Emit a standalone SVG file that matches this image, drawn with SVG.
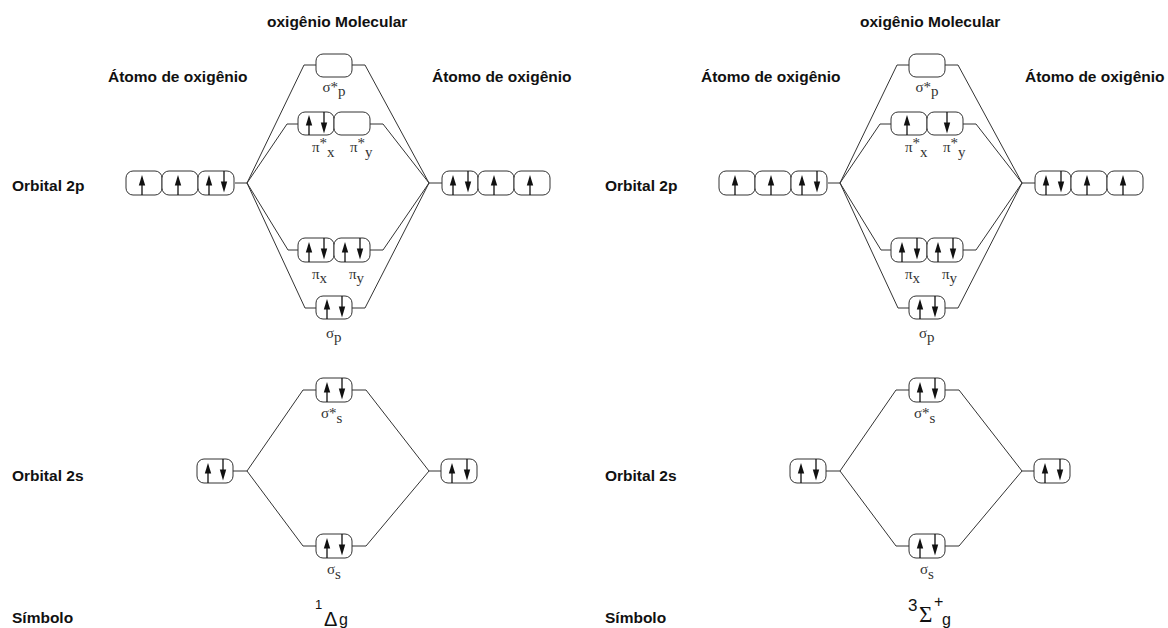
<svg xmlns="http://www.w3.org/2000/svg" xmlns:xlink="http://www.w3.org/1999/xlink" width="1168" height="628" viewBox="0 0 1168 628">
<style>
.bx{fill:#fff;stroke:#333;stroke-width:1}
.cn line{stroke:#333;stroke-width:1}
.hd{font-family:"Liberation Sans",Arial,sans-serif;font-weight:bold;font-size:15.5px;fill:#111}
.lb{font-family:"Liberation Serif","Times New Roman",serif;font-size:15px;fill:#333}
.sm{font-family:"Liberation Sans",Arial,sans-serif;fill:#111}
.sh{stroke:#111;stroke-width:1.3}
</style>
<defs>
<g id="up"><line class="sh" x1="0" y1="24" x2="0" y2="13"/><polygon points="-3.2,14.5 3.2,14.5 0,4" fill="#111"/></g>
<g id="dn"><line class="sh" x1="0" y1="0" x2="0" y2="12"/><polygon points="-3.2,10.5 3.2,10.5 0,21.5" fill="#111"/></g>
</defs>
<rect width="1168" height="628" fill="#fff"/>

<g id="panel-left">
<text class="hd" x="267" y="27">oxigênio Molecular</text>
<text class="hd" x="108" y="82">Átomo de oxigênio</text>
<text class="hd" x="432" y="82">Átomo de oxigênio</text>
<text class="hd" x="12" y="191">Orbital 2p</text>
<text class="hd" x="12" y="481">Orbital 2s</text>
<text class="hd" x="12" y="623">Símbolo</text>

<g id="L-connectors" class="cn">
<line x1="235" y1="183" x2="247" y2="183"/>
<line x1="429" y1="183" x2="442" y2="183"/>
<line x1="304" y1="65" x2="316" y2="65"/><line x1="352" y1="65" x2="365" y2="65"/>
<line x1="304" y1="65" x2="247" y2="183"/><line x1="365" y1="65" x2="429" y2="183"/>
<line x1="287" y1="124" x2="298" y2="124"/><line x1="370" y1="124" x2="383" y2="124"/>
<line x1="287" y1="124" x2="247" y2="183"/><line x1="383" y1="124" x2="429" y2="183"/>
<line x1="288" y1="250" x2="298" y2="250"/><line x1="370" y1="250" x2="383" y2="250"/>
<line x1="288" y1="250" x2="247" y2="183"/><line x1="383" y1="250" x2="429" y2="183"/>
<line x1="305" y1="308" x2="316" y2="308"/><line x1="352" y1="308" x2="365" y2="308"/>
<line x1="305" y1="308" x2="247" y2="183"/><line x1="365" y1="308" x2="429" y2="183"/>
<line x1="233" y1="471" x2="247" y2="471"/><line x1="429" y1="471" x2="441" y2="471"/>
<line x1="303" y1="390" x2="316" y2="390"/><line x1="352" y1="390" x2="366" y2="390"/>
<line x1="303" y1="390" x2="247" y2="471"/><line x1="366" y1="390" x2="429" y2="471"/>
<line x1="303" y1="546" x2="316" y2="546"/><line x1="352" y1="546" x2="366" y2="546"/>
<line x1="303" y1="546" x2="247" y2="471"/><line x1="366" y1="546" x2="429" y2="471"/>
</g>

<g id="L-atomA-2p">
<rect class="bx" x="126" y="171" width="36" height="24" rx="7"/><rect class="bx" x="162" y="171" width="36" height="24" rx="7"/><rect class="bx" x="198" y="171" width="36" height="24" rx="7"/>
<use href="#up" x="142" y="171"/><use href="#up" x="178" y="171"/><use href="#up" x="209" y="171"/><use href="#dn" x="224" y="171"/>
</g>
<g id="L-atomB-2p">
<rect class="bx" x="442" y="171" width="36" height="24" rx="7"/><rect class="bx" x="478" y="171" width="36" height="24" rx="7"/><rect class="bx" x="514" y="171" width="36" height="24" rx="7"/>
<use href="#up" x="453" y="171"/><use href="#dn" x="468" y="171"/><use href="#up" x="494" y="171"/><use href="#up" x="530" y="171"/>
</g>
<g id="L-sigma-star-p">
<rect class="bx" x="316" y="54" width="36" height="23" rx="7"/>
<text class="lb" x="334" y="92" text-anchor="middle">σ*<tspan dy="4">p</tspan></text>
</g>
<g id="L-pi-star">
<rect class="bx" x="298" y="112" width="36" height="23" rx="7"/><rect class="bx" x="334" y="112" width="36" height="23" rx="7"/>
<use href="#up" x="309" y="111"/><use href="#dn" x="324" y="112"/>
<text class="lb" x="312" y="152">π<tspan dy="-4">*</tspan><tspan dy="9">x</tspan></text>
<text class="lb" x="350" y="152">π<tspan dy="-4">*</tspan><tspan dy="9">y</tspan></text>
</g>
<g id="L-pi">
<rect class="bx" x="298" y="238" width="36" height="24" rx="7"/><rect class="bx" x="334" y="238" width="36" height="24" rx="7"/>
<use href="#up" x="309" y="238"/><use href="#dn" x="324" y="238"/><use href="#up" x="345" y="238"/><use href="#dn" x="360" y="238"/>
<text class="lb" x="312" y="279">π<tspan dy="4">x</tspan></text>
<text class="lb" x="349" y="279">π<tspan dy="4">y</tspan></text>
</g>
<g id="L-sigma-p">
<rect class="bx" x="316" y="296" width="36" height="23" rx="7"/>
<use href="#up" x="327" y="295"/><use href="#dn" x="342" y="296"/>
<text class="lb" x="326" y="338">σ<tspan dy="4">p</tspan></text>
</g>
<g id="L-atomA-2s">
<rect class="bx" x="197" y="459" width="36" height="24" rx="7"/>
<use href="#up" x="208" y="459"/><use href="#dn" x="223" y="459"/>
</g>
<g id="L-atomB-2s">
<rect class="bx" x="441" y="459" width="36" height="24" rx="7"/>
<use href="#up" x="452" y="459"/><use href="#dn" x="467" y="459"/>
</g>
<g id="L-sigma-star-s">
<rect class="bx" x="316" y="378" width="36" height="24" rx="7"/>
<use href="#up" x="327" y="378"/><use href="#dn" x="342" y="378"/>
<text class="lb" x="321" y="418">σ*<tspan dy="5">s</tspan></text>
</g>
<g id="L-sigma-s">
<rect class="bx" x="316" y="534" width="36" height="24" rx="7"/>
<use href="#up" x="327" y="534"/><use href="#dn" x="342" y="534"/>
<text class="lb" x="327" y="574">σ<tspan dy="5">s</tspan></text>
</g>
<g id="L-symbol">
<text class="sm" x="315" y="609" font-size="13">1</text>
<text class="sm" x="324" y="626" font-size="20">Δ</text>
<text class="sm" x="339" y="625" font-size="16">g</text>
</g>
</g>

<g id="panel-right" transform="translate(593,0)">
<text class="hd" x="267" y="27">oxigênio Molecular</text>
<text class="hd" x="108" y="82">Átomo de oxigênio</text>
<text class="hd" x="432" y="82">Átomo de oxigênio</text>
<text class="hd" x="12" y="191">Orbital 2p</text>
<text class="hd" x="12" y="481">Orbital 2s</text>
<text class="hd" x="12" y="623">Símbolo</text>

<g id="R-connectors" class="cn">
<line x1="235" y1="183" x2="247" y2="183"/>
<line x1="429" y1="183" x2="442" y2="183"/>
<line x1="304" y1="65" x2="316" y2="65"/><line x1="352" y1="65" x2="365" y2="65"/>
<line x1="304" y1="65" x2="247" y2="183"/><line x1="365" y1="65" x2="429" y2="183"/>
<line x1="287" y1="124" x2="298" y2="124"/><line x1="370" y1="124" x2="383" y2="124"/>
<line x1="287" y1="124" x2="247" y2="183"/><line x1="383" y1="124" x2="429" y2="183"/>
<line x1="288" y1="250" x2="298" y2="250"/><line x1="370" y1="250" x2="383" y2="250"/>
<line x1="288" y1="250" x2="247" y2="183"/><line x1="383" y1="250" x2="429" y2="183"/>
<line x1="305" y1="308" x2="316" y2="308"/><line x1="352" y1="308" x2="365" y2="308"/>
<line x1="305" y1="308" x2="247" y2="183"/><line x1="365" y1="308" x2="429" y2="183"/>
<line x1="233" y1="471" x2="247" y2="471"/><line x1="429" y1="471" x2="441" y2="471"/>
<line x1="303" y1="390" x2="316" y2="390"/><line x1="352" y1="390" x2="366" y2="390"/>
<line x1="303" y1="390" x2="247" y2="471"/><line x1="366" y1="390" x2="429" y2="471"/>
<line x1="303" y1="546" x2="316" y2="546"/><line x1="352" y1="546" x2="366" y2="546"/>
<line x1="303" y1="546" x2="247" y2="471"/><line x1="366" y1="546" x2="429" y2="471"/>
</g>

<g id="R-atomA-2p">
<rect class="bx" x="126" y="171" width="36" height="24" rx="7"/><rect class="bx" x="162" y="171" width="36" height="24" rx="7"/><rect class="bx" x="198" y="171" width="36" height="24" rx="7"/>
<use href="#up" x="142" y="171"/><use href="#up" x="178" y="171"/><use href="#up" x="209" y="171"/><use href="#dn" x="224" y="171"/>
</g>
<g id="R-atomB-2p">
<rect class="bx" x="442" y="171" width="36" height="24" rx="7"/><rect class="bx" x="478" y="171" width="36" height="24" rx="7"/><rect class="bx" x="514" y="171" width="36" height="24" rx="7"/>
<use href="#up" x="453" y="171"/><use href="#dn" x="468" y="171"/><use href="#up" x="494" y="171"/><use href="#up" x="530" y="171"/>
</g>
<g id="R-sigma-star-p">
<rect class="bx" x="316" y="54" width="36" height="23" rx="7"/>
<text class="lb" x="334" y="92" text-anchor="middle">σ*<tspan dy="4">p</tspan></text>
</g>
<g id="R-pi-star">
<rect class="bx" x="298" y="112" width="36" height="23" rx="7"/><rect class="bx" x="334" y="112" width="36" height="23" rx="7"/>
<use href="#up" x="314" y="111"/><use href="#dn" x="354" y="112"/>
<text class="lb" x="312" y="152">π<tspan dy="-4">*</tspan><tspan dy="9">x</tspan></text>
<text class="lb" x="350" y="152">π<tspan dy="-4">*</tspan><tspan dy="9">y</tspan></text>
</g>
<g id="R-pi">
<rect class="bx" x="298" y="238" width="36" height="24" rx="7"/><rect class="bx" x="334" y="238" width="36" height="24" rx="7"/>
<use href="#up" x="309" y="238"/><use href="#dn" x="324" y="238"/><use href="#up" x="345" y="238"/><use href="#dn" x="360" y="238"/>
<text class="lb" x="312" y="279">π<tspan dy="4">x</tspan></text>
<text class="lb" x="349" y="279">π<tspan dy="4">y</tspan></text>
</g>
<g id="R-sigma-p">
<rect class="bx" x="316" y="296" width="36" height="23" rx="7"/>
<use href="#up" x="327" y="295"/><use href="#dn" x="342" y="296"/>
<text class="lb" x="326" y="338">σ<tspan dy="4">p</tspan></text>
</g>
<g id="R-atomA-2s">
<rect class="bx" x="197" y="459" width="36" height="24" rx="7"/>
<use href="#up" x="208" y="459"/><use href="#dn" x="223" y="459"/>
</g>
<g id="R-atomB-2s">
<rect class="bx" x="441" y="459" width="36" height="24" rx="7"/>
<use href="#up" x="452" y="459"/><use href="#dn" x="467" y="459"/>
</g>
<g id="R-sigma-star-s">
<rect class="bx" x="316" y="378" width="36" height="24" rx="7"/>
<use href="#up" x="327" y="378"/><use href="#dn" x="342" y="378"/>
<text class="lb" x="321" y="418">σ*<tspan dy="5">s</tspan></text>
</g>
<g id="R-sigma-s">
<rect class="bx" x="316" y="534" width="36" height="24" rx="7"/>
<use href="#up" x="327" y="534"/><use href="#dn" x="342" y="534"/>
<text class="lb" x="327" y="574">σ<tspan dy="5">s</tspan></text>
</g>
<g id="R-symbol">
<text class="sm" x="315" y="611" font-size="17">3</text>
<text x="326" y="622" font-size="23" font-family="Liberation Serif,serif" fill="#111">Σ</text>
<text class="sm" x="341" y="607" font-size="16">+</text>
<text class="sm" x="349" y="625" font-size="16">g</text>
</g>
</g>
</svg>
